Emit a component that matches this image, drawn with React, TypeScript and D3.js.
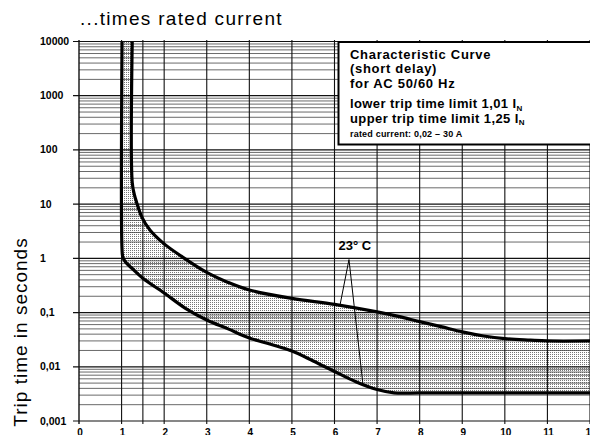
import React from 'react'
import * as d3 from 'd3'

// lower trip time limit (1,01 I_N), x = multiple of rated current, t = seconds
const lowerX = [1.01, 1.01, 1.03, 1.1, 1.25, 1.5, 2, 2.5, 3, 3.5, 4, 4.5, 5, 5.5, 6, 6.5, 7, 7.4, 8, 9, 10, 11, 12]
const lowerT = [10000, 1.5, 1.05, 0.84, 0.65, 0.43, 0.23, 0.12, 0.073, 0.05, 0.034, 0.026, 0.0195, 0.0128, 0.0082, 0.0053, 0.0038, 0.0033, 0.0033, 0.0033, 0.0033, 0.0033, 0.0033]

// upper trip time limit (1,25 I_N)
const upperX = [1.25, 1.25, 1.3, 1.35, 1.47, 1.67, 2, 2.4, 3, 3.5, 4, 5, 6, 7, 7.5, 8, 8.5, 9, 9.5, 10, 10.6, 11, 12]
const upperT = [10000, 25, 15, 11, 5.9, 3.3, 1.85, 1.1, 0.55, 0.36, 0.26, 0.183, 0.142, 0.103, 0.085, 0.068, 0.055, 0.044, 0.037, 0.033, 0.031, 0.030, 0.030]

const xTicks = [0, 1, 2, 3, 4, 5, 6, 7, 8, 9, 10, 11, 12]
const xExtraGrid = [1.5]
const yMajor = [0.001, 0.01, 0.1, 1, 10, 100, 1000, 10000]
const yLabels = ['0,001', '0,01', '0,1', '1', '10', '100', '1000', '10000']

// annotation "23° C": label point and the two curve points it points to
const noteLabel = { x: 6.48, t: 1.45 }
const noteFrom = { x: 6.34, t: 0.95 }
const noteTo = [
    { x: 6.13, t: 0.138 },
    { x: 6.67, t: 0.0046 },
]

const W = 590
const H = 435
const FONT = '"Liberation Sans", Arial, Helvetica, sans-serif'

export default function App() {
    const x = d3.scaleLinear().domain([0, 12]).range([79, 590])
    const y = d3.scaleLog().domain([0.001, 10000]).range([421, 41.5])

    const line = d3
        .line<[number, number]>()
        .x(d => x(d[0]))
        .y(d => y(d[1]))
        .curve(d3.curveCatmullRom.alpha(0.5))

    const upperPts: [number, number][] = upperX.map((v, i) => [v, upperT[i]])
    const lowerPts: [number, number][] = lowerX.map((v, i) => [v, lowerT[i]])

    const upperD = line(upperPts)!
    const lowerD = line(lowerPts)!
    const lowerRev = line([...lowerPts].reverse())!
    const bandD = upperD + 'L' + lowerRev.slice(1) + 'Z'

    const minor = y.ticks().filter(t => !yMajor.some(m => Math.abs(m - t) / m < 1e-6))

    const [x0, x1] = x.range()
    const [yb, yt] = y.range()

    return (
        <svg width={W} height={H} style={{ position: 'absolute', left: 0, top: 0, background: '#fff' }}>
            <defs>
                <pattern id="stip" width="2" height="2" patternUnits="userSpaceOnUse">
                    <rect width="1" height="1" fill="#777" />
                </pattern>
                <clipPath id="plot">
                    <rect x={x0} y={yt} width={x1 - x0 + 2} height={yb - yt} />
                </clipPath>
            </defs>

            {/* shaded band between the limits */}
            <path d={bandD} fill="url(#stip)" clipPath="url(#plot)" />

            {/* horizontal grid */}
            {minor.map((t, i) => (
                <line key={'m' + i} x1={x0} x2={x1} y1={y(t)} y2={y(t)} stroke="#444" strokeWidth={0.8} />
            ))}
            {yMajor.map((t, i) => (
                <line key={'M' + i} x1={x0 - 6} x2={x1} y1={y(t)} y2={y(t)} stroke="#111" strokeWidth={1.2} />
            ))}

            {/* vertical grid */}
            {xTicks.concat(xExtraGrid).map((v, i) => (
                <line key={'v' + i} x1={x(v)} x2={x(v)} y1={yt - 1.5} y2={yb + 3} stroke="#111" strokeWidth={v === 0 ? 1.4 : 1.1} />
            ))}

            {/* limit curves */}
            <g clipPath="url(#plot)" fill="none" stroke="#000" strokeWidth={3.2} strokeLinejoin="round">
                <path d={upperD} />
                <path d={lowerD} />
            </g>

            {/* annotation */}
            {noteTo.map((p, i) => (
                <line key={'n' + i} x1={x(noteFrom.x)} y1={y(noteFrom.t)} x2={x(p.x)} y2={y(p.t)} stroke="#000" strokeWidth={1} />
            ))}
            <text x={x(noteLabel.x)} y={y(noteLabel.t)} textAnchor="middle" fontFamily={FONT} fontWeight="bold" fontSize={13}>
                23° C
            </text>

            {/* y tick labels */}
            {yMajor.map((t, i) => (
                <text key={'yl' + i} x={40} y={y(t) + 3.5} fontFamily={FONT} fontWeight="bold" fontSize={10.5}>
                    {yLabels[i]}
                </text>
            ))}

            {/* x tick labels */}
            {xTicks.map(v => (
                <text key={'xl' + v} x={x(v) + 1} y={436} textAnchor="middle" fontFamily={FONT} fontWeight="bold" fontSize={10}>
                    {v}
                </text>
            ))}

            {/* titles */}
            <text x={80} y={25} fontFamily={FONT} fontSize={19} letterSpacing={1.3}>
                ...times rated current
            </text>
            <text
                transform={`translate(27, 332) rotate(-90)`}
                textAnchor="middle"
                fontFamily={FONT}
                fontSize={19}
                letterSpacing={1}
            >
                Trip time in seconds
            </text>

            {/* legend box */}
            <rect x={338.5} y={42} width={260} height={102.5} fill="#fff" stroke="#000" strokeWidth={2} />
            <g fontFamily={FONT} fontWeight="bold" fontSize={13} letterSpacing={0.4}>
                <text x={350} y={58.5} letterSpacing={0.7}>Characteristic Curve</text>
                <text x={350} y={73} letterSpacing={0.7}>(short delay)</text>
                <text x={350} y={87.5} letterSpacing={0.7}>for AC 50/60 Hz</text>
                <text x={350} y={108}>
                    lower trip time limit 1,01 I<tspan fontSize={8} dy={2.5}>N</tspan>
                </text>
                <text x={350} y={122.5}>
                    upper trip time limit 1,25 I<tspan fontSize={8} dy={2.5}>N</tspan>
                </text>
                <text x={350} y={137} fontSize={9} letterSpacing={0.2}>
                    rated current: 0,02 – 30 A
                </text>
            </g>
        </svg>
    )
}
